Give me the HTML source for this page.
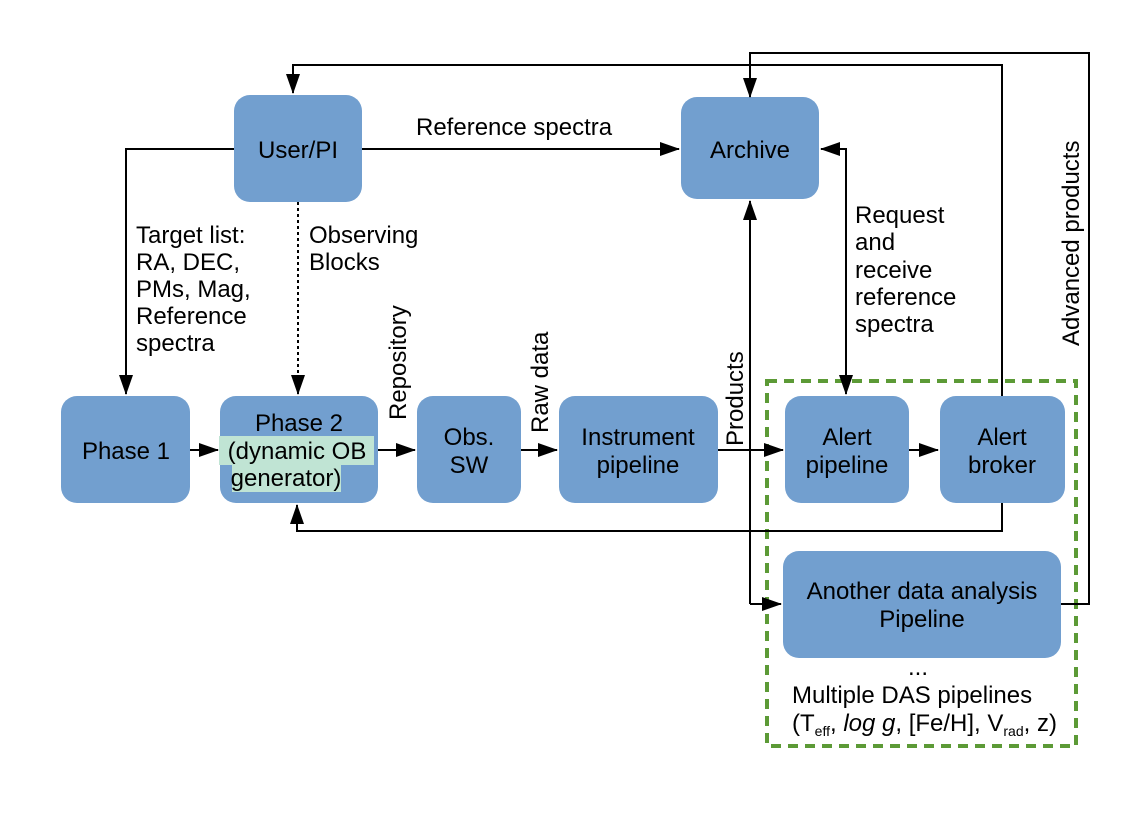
<!DOCTYPE html>
<html><head><style>
body{margin:0;background:#fff}
svg text{font-family:"Liberation Sans",sans-serif;font-size:24px;fill:#000}
</style></head><body>
<svg width="1144" height="809" viewBox="0 0 1144 809" xmlns="http://www.w3.org/2000/svg">
<defs>
<marker id="a" markerWidth="20" markerHeight="14" refX="19" refY="7" orient="auto" markerUnits="userSpaceOnUse">
<path d="M0,0 L20,7 L0,14 z" fill="#000"/></marker>
</defs>
<g fill="#729fcf">
<rect x="234" y="95" width="128" height="107" rx="16"/>
<rect x="681" y="97" width="138" height="102" rx="16"/>
<rect x="61" y="396" width="129" height="107" rx="16"/>
<rect x="220" y="396" width="158" height="107" rx="16"/>
<rect x="417" y="396" width="104" height="107" rx="16"/>
<rect x="559" y="396" width="159" height="107" rx="16"/>
<rect x="785" y="396" width="124" height="107" rx="16"/>
<rect x="940" y="396" width="125" height="107" rx="16"/>
<rect x="783" y="551" width="278" height="107" rx="16"/>
</g>
<rect x="219" y="436" width="155" height="29" fill="#c0e4d4"/>
<rect x="232" y="465" width="109" height="27" fill="#c0e4d4"/>
<rect x="767" y="381" width="309" height="365" fill="none" stroke="#5c9a36" stroke-width="4" stroke-dasharray="10,7"/>
<g stroke="#000" stroke-width="2" fill="none">
<polyline points="234,149 126,149 126,394" marker-end="url(#a)"/>
<line x1="362" y1="149" x2="679" y2="149" marker-end="url(#a)"/>
<line x1="298" y1="202" x2="298" y2="380" stroke-dasharray="3,3"/>
<line x1="298" y1="378" x2="298" y2="394" marker-end="url(#a)"/>
<line x1="190" y1="450" x2="218" y2="450" marker-end="url(#a)"/>
<line x1="378" y1="450" x2="415" y2="450" marker-end="url(#a)"/>
<line x1="521" y1="450" x2="557" y2="450" marker-end="url(#a)"/>
<line x1="718" y1="450" x2="783" y2="450" marker-end="url(#a)"/>
<line x1="909" y1="450" x2="938" y2="450" marker-end="url(#a)"/>
<polyline points="1002,396 1002,65 293,65 293,93" marker-end="url(#a)"/>
<polyline points="1061,604 1089,604 1089,53 750,53 750,97" marker-end="url(#a)"/>
<polyline points="1002,503 1002,531 297,531 297,505" marker-end="url(#a)"/>
<polyline points="750,604 781,604" marker-end="url(#a)"/>
<polyline points="750,604 750,201" marker-end="url(#a)"/>
<polyline points="846,394 846,149 821,149" marker-end="url(#a)"/>
<line x1="846" y1="160" x2="846" y2="394" marker-end="url(#a)"/>
</g>
<g text-anchor="middle">
<text x="298" y="158">User/PI</text>
<text x="750" y="158">Archive</text>
<text x="126" y="459">Phase 1</text>
<text x="299" y="431">Phase 2</text>
<text x="297" y="459">(dynamic OB</text>
<text x="286" y="486">generator)</text>
<text x="469" y="445">Obs.</text>
<text x="469" y="473">SW</text>
<text x="638" y="445">Instrument</text>
<text x="638" y="473">pipeline</text>
<text x="847" y="445">Alert</text>
<text x="847" y="473">pipeline</text>
<text x="1002" y="445">Alert</text>
<text x="1002" y="473">broker</text>
<text x="922" y="599">Another data analysis</text>
<text x="922" y="627">Pipeline</text>
<text x="918" y="675">...</text>
</g>
<text x="416" y="135">Reference spectra</text>
<text x="136" y="243">Target list:</text>
<text x="136" y="270">RA, DEC,</text>
<text x="136" y="297">PMs, Mag,</text>
<text x="136" y="324">Reference</text>
<text x="136" y="351">spectra</text>
<text x="309" y="243">Observing</text>
<text x="309" y="270">Blocks</text>
<text x="855" y="223">Request</text>
<text x="855" y="250">and</text>
<text x="855" y="278">receive</text>
<text x="855" y="305">reference</text>
<text x="855" y="332">spectra</text>
<text x="792" y="703">Multiple DAS pipelines</text>
<text x="792" y="731">(T<tspan font-size="14" dy="5">eff</tspan><tspan dy="-5">, </tspan><tspan font-style="italic">log g</tspan>, [Fe/H], V<tspan font-size="14" dy="5">rad</tspan><tspan dy="-5">, z)</tspan></text>
<text transform="translate(406,420) rotate(-90)">Repository</text>
<text transform="translate(548,433) rotate(-90)">Raw data</text>
<text transform="translate(743,446) rotate(-90)">Products</text>
<text transform="translate(1079,346) rotate(-90)">Advanced products</text>
</svg>
</body></html>
